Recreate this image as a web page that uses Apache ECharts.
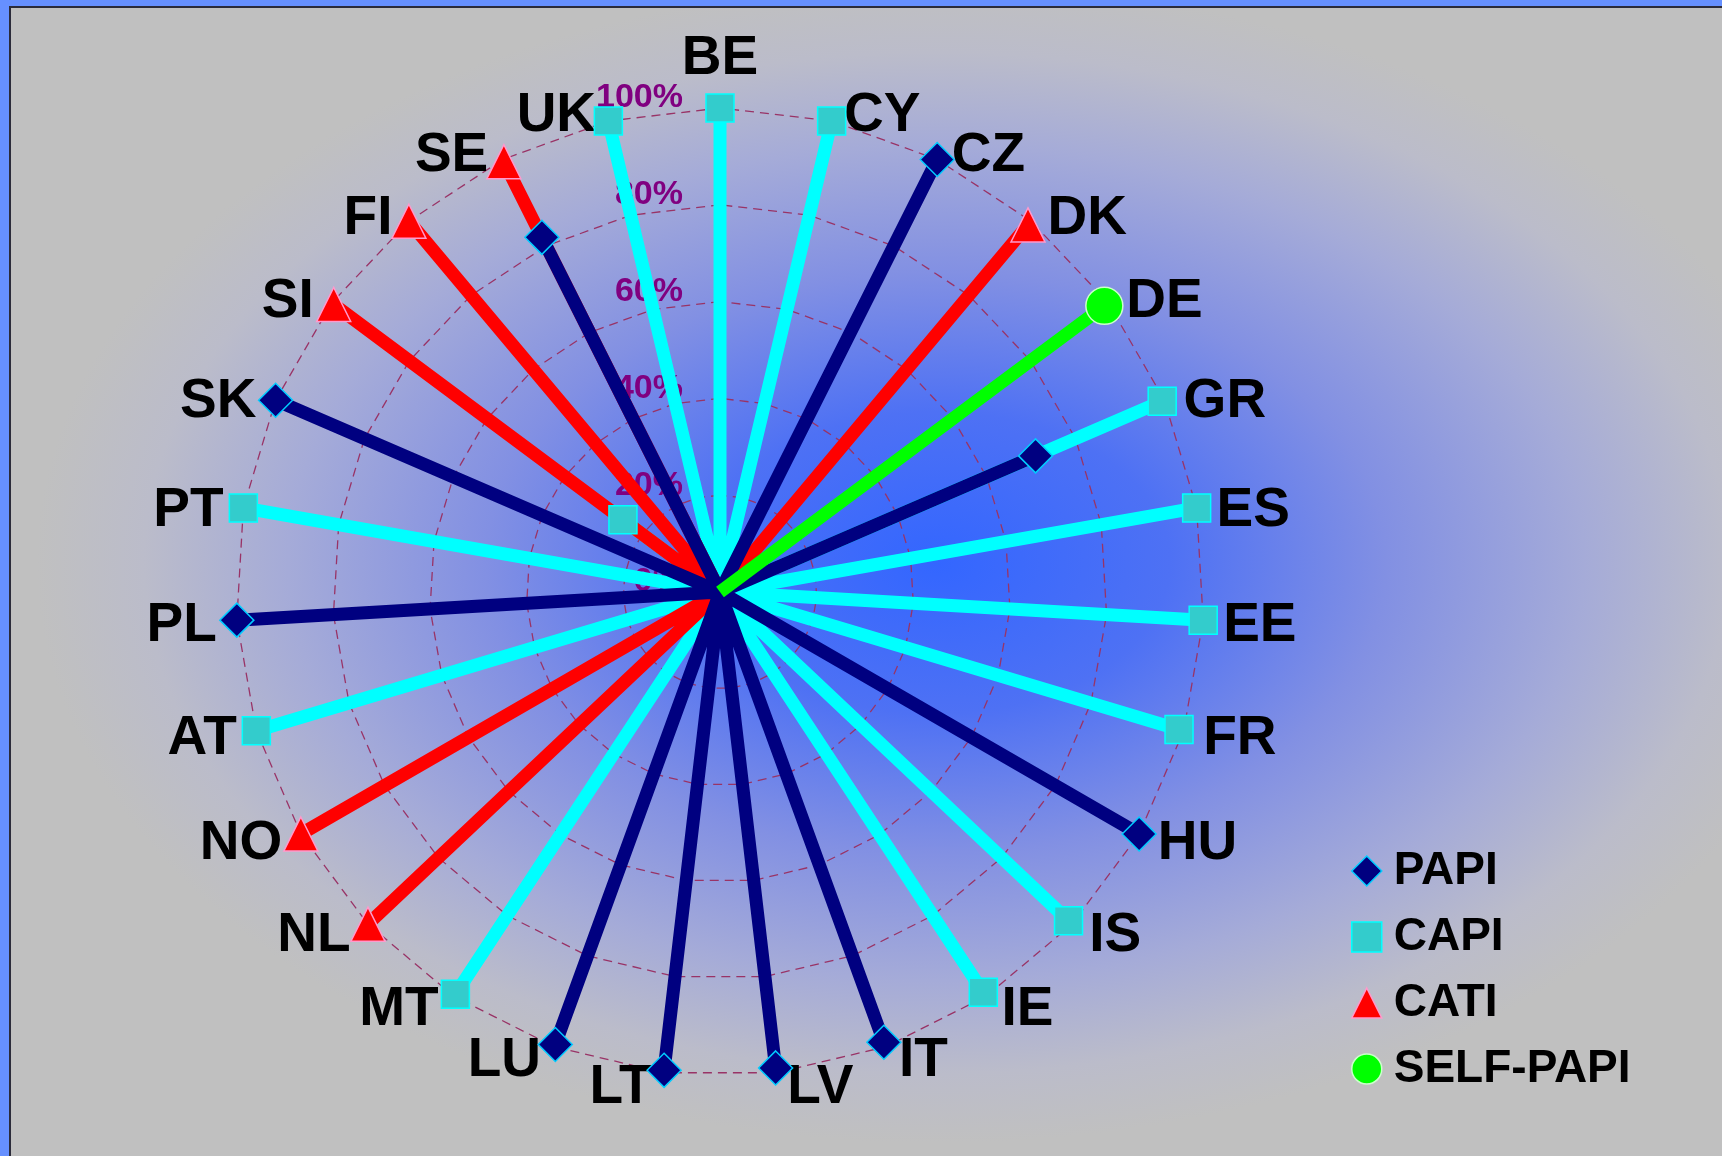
<!DOCTYPE html>
<html>
<head>
<meta charset="utf-8">
<title>Survey modes by country</title>
<script src="https://cdn.jsdelivr.net/npm/echarts@6/dist/echarts.min.js"></script>
<style>
html, body { margin: 0; padding: 0; width: 1722px; height: 1156px; overflow: hidden; background: #6690ff; }
#frame {
    position: absolute; left: 9px; top: 6px; right: 0; bottom: 0;
    border-left: 2px solid #2b2b3a; border-top: 2px solid #2b2b3a;
    background: radial-gradient(ellipse 900px 580px at 925px 555px,
        #3366ff 0%, #4e71f4 26%, #8290e3 50%, #a5abd8 72%, #bbbcca 88%, #c0c0c0 100%);
}
#container { position: absolute; left: 0; top: 0; width: 1722px; height: 1156px; }
</style>
</head>
<body>
<div id="frame"></div>
<div id="container"></div>
<script>
var FONT = '"Liberation Sans", Arial, sans-serif';

// countries, clockwise from the top
var countries = ['BE', 'CY', 'CZ', 'DK', 'DE', 'GR', 'ES', 'EE', 'FR', 'HU', 'IS', 'IE', 'IT', 'LV',
    'LT', 'LU', 'MT', 'NL', 'NO', 'AT', 'PL', 'PT', 'SK', 'SI', 'FI', 'SE', 'UK'];
var ringTicks = [0, 20, 40, 60, 80, 100];

// share of interviews (%) per mode
var papi = [['CZ', 100], ['GR', 71], ['HU', 100], ['IT', 99], ['LV', 99], ['LT', 99.5],
    ['LU', 99.5], ['PL', 100], ['SK', 100], ['SE', 82]];
var capi = [['BE', 100], ['CY', 100], ['GR', 99.5], ['ES', 100], ['EE', 100], ['FR', 99],
    ['IS', 99], ['IE', 99], ['MT', 99.5], ['AT', 100], ['PT', 100], ['SI', 25], ['UK', 100]];
var cati = [['DK', 99], ['NL', 100], ['NO', 100], ['FI', 100], ['SE', 99.5], ['SI', 99.5]];
var selfPapi = [['DE', 99]];

var dom = document.getElementById('container');
var myChart = echarts.init(dom);

// each value is a spoke from the centre out to the point
// angle is the country's position in the list (0 = top)
function spokes(pairs) {
    var out = [];
    pairs.forEach(function (p) {
        var i = countries.indexOf(p[0]);
        out.push({ value: [0, i], symbol: 'none' });
        out.push([p[1], i]);
        out.push(['-', i]);
    });
    return out;
}

function spokeSeries(name, pairs, symbol, size, fill, border, lineColor) {
    return {
        name: name,
        type: 'line',
        coordinateSystem: 'polar',
        data: spokes(pairs),
        symbol: symbol,
        symbolSize: size,
        showAllSymbol: true,
        connectNulls: false,
        clip: false,
        lineStyle: { color: lineColor, width: 13 },
        itemStyle: { color: fill, borderColor: border, borderWidth: 1.5 },
        emphasis: { disabled: true }
    };
}

// radar goes counter-clockwise, so turn the list round for the grid
var radarOrder = [countries[0]].concat(countries.slice(1).reverse());
var maxVal = ringTicks[ringTicks.length - 1];

var option = {
    backgroundColor: 'transparent',
    animation: false,
    radar: {
        center: [720, 592],
        radius: 484,
        startAngle: 90,
        shape: 'polygon',
        splitNumber: ringTicks.length - 1,
        indicator: radarOrder.map(function (c) { return { name: c, min: 0, max: maxVal }; }),
        axisName: {
            formatter: '{n|{value}}',
            padding: [12, 10, 12, 10],
            rich: {
                n: {
                    color: '#000', fontSize: 55, fontWeight: 'bold', fontFamily: FONT,
                    padding: [10, 0, 0, 0]
                }
            }
        },
        nameGap: 10,
        axisLine: { show: false },
        axisTick: { show: false },
        axisLabel: { show: false },
        splitArea: { show: false },
        splitLine: { lineStyle: { color: '#993366', width: 1.3, type: [9, 6] } }
    },
    polar: { center: [720, 592], radius: 484 },
    angleAxis: {
        // one full turn = all countries, BE at the top
        type: 'value',
        min: 0,
        max: countries.length,
        startAngle: 90,
        clockwise: true,
        axisLine: { show: false },
        axisTick: { show: false },
        axisLabel: { show: false },
        splitLine: { show: false }
    },
    radiusAxis: {
        min: 0,
        max: maxVal,
        interval: ringTicks[1] - ringTicks[0],
        axisLine: { show: false },
        axisTick: { show: false },
        splitLine: { show: false },
        axisLabel: {
            formatter: '{value}%',
            color: '#800080',
            fontSize: 34,
            fontWeight: 'bold',
            fontFamily: FONT,
            margin: 37,
            verticalAlign: 'bottom',
            lineHeight: 20
        }
    },
    legend: {
        orient: 'vertical',
        left: 1346,
        top: 843,
        itemWidth: 30,
        itemHeight: 30,
        itemGap: 20,
        textStyle: { fontSize: 46, fontWeight: 'bold', color: '#000', fontFamily: FONT, padding: [0, 0, 0, 7] },
        data: [
            { name: 'PAPI', icon: 'diamond', itemStyle: { color: '#000080', borderColor: '#00ccff', borderWidth: 1.5 } },
            { name: 'CAPI', icon: 'rect', itemStyle: { color: '#33cccc', borderColor: '#00ffff', borderWidth: 1.5 } },
            { name: 'CATI', icon: 'triangle', itemStyle: { color: '#ff0000', borderColor: '#ff99cc', borderWidth: 1.5 } },
            { name: 'SELF-PAPI', icon: 'circle', itemStyle: { color: '#00ff00', borderColor: '#ccffcc', borderWidth: 1.5 } }
        ]
    },
    series: [
        spokeSeries('CAPI', capi, 'rect', 28, '#33cccc', '#00ffff', '#00ffff'),
        spokeSeries('CATI', cati, 'triangle', 34, '#ff0000', '#ff99cc', '#ff0000'),
        spokeSeries('PAPI', papi, 'diamond', 34, '#000080', '#00ccff', '#000080'),
        spokeSeries('SELF-PAPI', selfPapi, 'circle', 37, '#00ff00', '#ccffcc', '#00ff00')
    ]
};

if (option && typeof option === 'object') {
    myChart.setOption(option, true);
}
</script>
</body>
</html>
